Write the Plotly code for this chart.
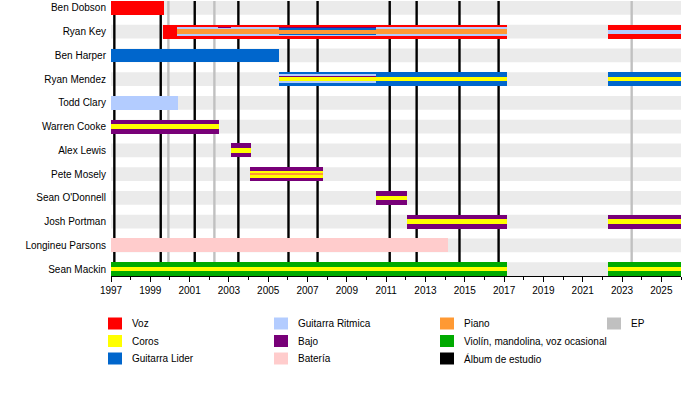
import plotly.graph_objects as go

# ---------------- DATA ----------------
members = ["Ben Dobson", "Ryan Key", "Ben Harper", "Ryan Mendez", "Todd Clary",
           "Warren Cooke", "Alex Lewis", "Pete Mosely", "Sean O'Donnell",
           "Josh Portman", "Longineu Parsons", "Sean Mackin"]

# (member, start, end) in decimal years
voz = [("Ben Dobson", 1997.0, 1999.7), ("Ryan Key", 1999.65, 2017.16), ("Ryan Key", 2022.3, 2026.0)]
guitarra_lider = [("Ben Harper", 1997.0, 2005.55), ("Ryan Mendez", 2005.55, 2017.16), ("Ryan Mendez", 2022.3, 2026.0)]
guitarra_ritmica = [("Todd Clary", 1997.0, 2000.4)]
bajo = [("Warren Cooke", 1997.0, 2002.5), ("Alex Lewis", 2003.1, 2004.13), ("Pete Mosely", 2004.08, 2007.8),
        ("Sean O'Donnell", 2010.5, 2012.07), ("Josh Portman", 2012.07, 2017.16), ("Josh Portman", 2022.3, 2026.0)]
bateria = [("Longineu Parsons", 1997.0, 2014.16)]
violin = [("Sean Mackin", 1997.0, 2017.16), ("Sean Mackin", 2022.3, 2026.0)]

# secondary roles
ritmica_key = [("Ryan Key", 2000.36, 2017.16)]
ritmica_key_2 = [("Ryan Key", 2022.3, 2026.0)]
piano = [("Ryan Key", 2000.36, 2017.16)]
piano_mosely = [("Pete Mosely", 2004.08, 2007.8)]
coros = [("Warren Cooke", 1997.0, 2002.5), ("Alex Lewis", 2003.1, 2004.13),
         ("Sean O'Donnell", 2010.5, 2012.07), ("Josh Portman", 2012.07, 2017.16), ("Josh Portman", 2022.3, 2026.0),
         ("Sean Mackin", 1997.0, 2017.16), ("Sean Mackin", 2022.3, 2026.0),
         ("Ryan Mendez", 2005.55, 2017.16), ("Ryan Mendez", 2022.3, 2026.0)]
coros_mosely = [("Pete Mosely", 2004.08, 2007.8)]
lider_key = [("Ryan Key", 2005.55, 2010.5)]
bajo_key = [("Ryan Key", 2002.45, 2003.1), ("Ryan Key", 2005.55, 2010.5)]
bajo_mendez = [("Ryan Mendez", 2005.55, 2010.5)]
ritmica_mendez = [("Ryan Mendez", 2005.55, 2010.5)]

albums = [1997.17, 1999.53, 2001.26, 2003.48, 2006.03, 2007.51, 2011.18, 2012.55, 2014.73, 2016.72]
eps = [1999.92, 2002.26, 2023.49]

legend_labels = [["Voz", "Coros", "Guitarra Lider"],
                 ["Guitarra Ritmica", "Bajo", "Batería"],
                 ["Piano", "Violín, mandolina, voz ocasional", "Álbum de estudio"],
                 ["EP"]]

# ---------------- STYLE ----------------
RED = "#FF0000"; YEL = "#FFFF00"; BLUE = "#0066CC"; LB = "#B3CCFF"; PUR = "#780078"
ORA = "#FF9933"; PINK = "#FFCCCC"; GRN = "#00AA00"; GRAY = "#C0C0C0"; BLK = "#000000"
legend_colors = [[RED, YEL, BLUE], [LB, PUR, PINK], [ORA, GRN, BLK], [GRAY]]

X0, X1 = 1997.0, 2026.0
H = 0.58
FONT = "Liberation Sans, Arial, sans-serif"
Y_TOP, Y_BOT = -H / 2, len(members) - 1 + H / 2

idx = {m: i for i, m in enumerate(members)}

fig = go.Figure()

def add_layer(spans, color, width, offset=None):
    if offset is None:
        offset = -width / 2
    fig.add_trace(go.Bar(
        orientation="h",
        y=[idx[s[0]] for s in spans],
        x=[s[2] - s[1] for s in spans],
        base=[s[1] for s in spans],
        width=width, offset=offset,
        marker=dict(color=color, line=dict(width=0)),
        showlegend=False, hoverinfo="skip"))

add_layer(voz, RED, H)
add_layer(guitarra_lider, BLUE, H)
add_layer(guitarra_ritmica, LB, H)
add_layer(bajo, PUR, H)
add_layer(bateria, PINK, H)
add_layer(violin, GRN, H)
add_layer(ritmica_key, LB, 0.40)
add_layer(ritmica_key_2, LB, 0.17)
add_layer(piano, ORA, 0.20)
add_layer(coros, YEL, 0.19)
add_layer(coros_mosely, YEL, 0.30)
add_layer(piano_mosely, ORA, 0.06)
add_layer(lider_key, BLUE, 0.025, -0.135)
add_layer(lider_key, BLUE, 0.025, 0.11)
add_layer(bajo_key, PUR, 0.025, -0.19)
add_layer(bajo_mendez, PUR, 0.025, -0.14)
add_layer(ritmica_mendez, LB, 0.025, -0.19)
add_layer(ritmica_mendez, LB, 0.025, 0.11)

shapes = []
for i in range(len(members)):
    shapes.append(dict(type="rect", xref="x", yref="y", x0=X0, x1=X1, y0=i - H / 2, y1=i + H / 2,
                       fillcolor="#EBEBEB", line=dict(width=0), layer="below"))
for yv in eps:
    shapes.append(dict(type="line", xref="x", yref="y", x0=yv, x1=yv, y0=Y_TOP, y1=Y_BOT,
                       line=dict(color=GRAY, width=2.4), layer="below"))
for yv in albums:
    shapes.append(dict(type="line", xref="x", yref="y", x0=yv, x1=yv, y0=Y_TOP, y1=Y_BOT,
                       line=dict(color=BLK, width=2.4), layer="below"))

# manual legend (pixel layout -> paper coords)
L, R, T, B = 111, 19, 1, 119
PW, PH = 700 - L - R, 395 - T - B
def px(x): return (x - L) / PW
def py(y): return (395 - B - y) / PH

col_x = [108, 274, 440, 607]
row_y = [323.5, 341, 358.5]
annotations = []
for c, (labs, cols) in enumerate(zip(legend_labels, legend_colors)):
    for r, (lab, colr) in enumerate(zip(labs, cols)):
        x = col_x[c]; y = row_y[r]
        shapes.append(dict(type="rect", xref="paper", yref="paper",
                           x0=px(x), x1=px(x + 14), y0=py(y + 6), y1=py(y - 6),
                           fillcolor=colr, line=dict(width=0)))
        annotations.append(dict(xref="paper", yref="paper", x=px(x + 22), y=py(y), text=lab,
                                showarrow=False, xanchor="left", yanchor="middle",
                                font=dict(size=10, color="#000", family=FONT)))

fig.update_layout(
    width=700, height=395,
    margin=dict(l=L, r=R, t=T, b=B),
    paper_bgcolor="white", plot_bgcolor="white",
    barmode="overlay", bargap=0,
    shapes=shapes, annotations=annotations,
    font=dict(family=FONT, size=10, color="#000"),
    xaxis=dict(range=[X0, X1], tick0=1997, dtick=2, ticks="outside", ticklen=5, tickwidth=1,
               tickcolor="#000", showline=True, linecolor="#000", linewidth=1, showgrid=False,
               zeroline=False, tickfont=dict(size=10),
               minor=dict(dtick=1, tick0=1997, ticks="outside", ticklen=3, tickcolor="#000", showgrid=False)),
    yaxis=dict(tickvals=list(range(len(members))), ticktext=members,
               range=[Y_BOT, Y_TOP], showgrid=False, zeroline=False,
               ticks="", showline=False, tickfont=dict(size=10), ticklabelstandoff=4),
)

fig.write_html("out.html", config={"displayModeBar": False},
               post_script="document.body.style.margin='0';document.body.style.padding='0';")
